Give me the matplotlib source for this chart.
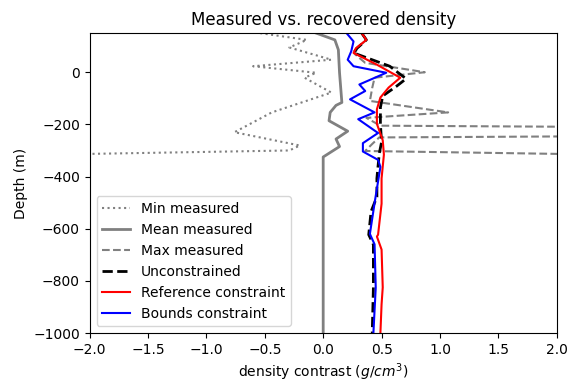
import matplotlib
matplotlib.use("Agg")
import matplotlib.pyplot as plt
import numpy as np

# depth (m) and density contrast (g/cm^3)
min_depth = [150, 124, 95, 48, 23, -2, -21, -78, -154, -230, -281, -300, -330]
min_meas = [-0.54, -0.14, -0.29, 0.07, -0.60, -0.06, -0.16, 0.07, -0.44, -0.76, -0.20, -0.29, -4.2]

mean_depth = [150, 124, 86, -2, -116, -127, -154, -186, -226, -256, -285, -325, -1000]
mean_meas = [-0.06, 0.10, 0.13, 0.14, 0.16, 0.11, 0.06, 0.05, 0.21, 0.11, 0.14, 0.0, 0.0]

max_depth = [150, 124, 92, 70, 36, 0, -21, -60, -110, -154, -175, -205, -228, -250, -275, -302, -330]
max_meas = [0.33, 0.37, 0.29, 0.27, 0.36, 0.87, 0.44, 0.42, 0.40, 1.07, 0.37, 0.49, 9.5, 0.48, 0.42, 0.36, 4.5]

unc_depth = [150, 124, 92, 74, 23, -25, -53, -91, -135, -173, -198, -268, -312, -407, -478, -534, -623, -661, -826, -1000]
unc = [0.33, 0.37, 0.29, 0.26, 0.57, 0.71, 0.63, 0.51, 0.49, 0.49, 0.49, 0.50, 0.48, 0.46, 0.46, 0.41, 0.39, 0.43, 0.43, 0.42]

ref_depth = [150, 124, 92, 74, 29, -21, -59, -97, -142, -198, -261, -316, -407, -504, -623, -630, -680, -825, -890, -1000]
ref = [0.33, 0.37, 0.28, 0.26, 0.46, 0.66, 0.56, 0.49, 0.46, 0.46, 0.51, 0.52, 0.50, 0.50, 0.47, 0.46, 0.50, 0.51, 0.50, 0.49]

bnd_depth = [150, 118, 80, 48, 23, -2, -47, -72, -104, -154, -180, -233, -272, -304, -336, -363, -502, -620, -660, -826, -1000]
bnd = [0.20, 0.26, 0.24, 0.21, 0.26, 0.54, 0.31, 0.36, 0.23, 0.44, 0.30, 0.47, 0.34, 0.34, 0.47, 0.49, 0.44, 0.40, 0.44, 0.45, 0.43]

fig = plt.figure(figsize=(5.71, 3.85), dpi=100)
ax = fig.add_axes([0.157, 0.135, 0.818, 0.779])

ax.plot(min_meas, min_depth, ":", color="grey", label="Min measured")
ax.plot(mean_meas, mean_depth, "-", color="grey", linewidth=2, label="Mean measured")
ax.plot(max_meas, max_depth, "--", color="grey", label="Max measured")
ax.plot(unc, unc_depth, "--", color="k", linewidth=2, label="Unconstrained")
ax.plot(ref, ref_depth, "-", color="r", label="Reference constraint")
ax.plot(bnd, bnd_depth, "-", color="b", label="Bounds constraint")

ax.set_xlim(-2, 2)
ax.set_ylim(-1000, 150)
ax.set_xlabel("density contrast ($g/cm^3$)", labelpad=3)
ax.set_ylabel("Depth (m)")
ax.set_title("Measured vs. recovered density")
ax.legend(loc="lower left")

fig.savefig("out.png", dpi=100)
